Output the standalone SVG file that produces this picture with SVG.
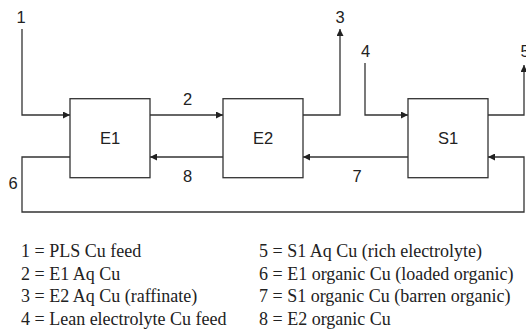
<svg xmlns="http://www.w3.org/2000/svg" width="526" height="331" viewBox="0 0 526 331">
<style>
.box{fill:#fff;stroke:#333;stroke-width:1.3}
.ln{fill:none;stroke:#333;stroke-width:1.3}
.nl{font-family:"Liberation Sans",Arial,sans-serif;font-size:16.5px;fill:#222;text-anchor:middle}
.lg{font-family:"Liberation Serif","Times New Roman",serif;font-size:18px;fill:#222}
</style>
<defs>
<marker id="ah" viewBox="0 0 10 10" refX="10" refY="5" markerWidth="8" markerHeight="7" markerUnits="userSpaceOnUse" orient="auto">
<path d="M0,0 L10,5 L0,10 z" fill="#222"/>
</marker>
</defs>
<rect width="526" height="331" fill="#fff"/>
<g id="connectors">
<path id="s1" class="ln" d="M22,29 V115 H70" marker-end="url(#ah)"/>
<path id="s2" class="ln" d="M150,115 H223" marker-end="url(#ah)"/>
<path id="s3" class="ln" d="M303,115 H340 V29" marker-end="url(#ah)"/>
<path id="s4" class="ln" d="M365,63 V115 H408" marker-end="url(#ah)"/>
<path id="s5" class="ln" d="M488,115 H524 V65" marker-end="url(#ah)"/>
<path id="s6" class="ln" d="M70,157 H22 V212 H524 V157 H488" marker-end="url(#ah)"/>
<path id="s7" class="ln" d="M408,157 H303" marker-end="url(#ah)"/>
<path id="s8" class="ln" d="M223,157 H150" marker-end="url(#ah)"/>
<text class="nl" x="21" y="22.7">1</text>
<text class="nl" x="187.5" y="105">2</text>
<text class="nl" x="340" y="22.7">3</text>
<text class="nl" x="365.5" y="56.7">4</text>
<text class="nl" x="525" y="56.7">5</text>
<text class="nl" x="13" y="189">6</text>
<text class="nl" x="357" y="181.5">7</text>
<text class="nl" x="187.5" y="182">8</text>
</g>
<g id="E1"><rect class="box" x="70" y="98.7" width="80" height="79"/><text class="nl" x="110" y="144">E1</text></g>
<g id="E2"><rect class="box" x="223" y="98.7" width="80" height="79"/><text class="nl" x="263" y="144">E2</text></g>
<g id="S1"><rect class="box" x="408" y="98.7" width="80" height="79"/><text class="nl" x="448" y="144">S1</text></g>
<g id="legend">
<text class="lg" x="21" y="257">1 = PLS Cu feed</text>
<text class="lg" x="21" y="279.5">2 = E1 Aq Cu</text>
<text class="lg" x="21" y="302">3 = E2 Aq Cu (raffinate)</text>
<text class="lg" x="21" y="324.5">4 = Lean electrolyte Cu feed</text>
<text class="lg" x="259" y="257">5 = S1 Aq Cu (rich electrolyte)</text>
<text class="lg" x="259" y="279.5">6 = E1 organic Cu (loaded organic)</text>
<text class="lg" x="259" y="302">7 = S1 organic Cu (barren organic)</text>
<text class="lg" x="259" y="324.5">8 = E2 organic Cu</text>
</g>
</svg>
